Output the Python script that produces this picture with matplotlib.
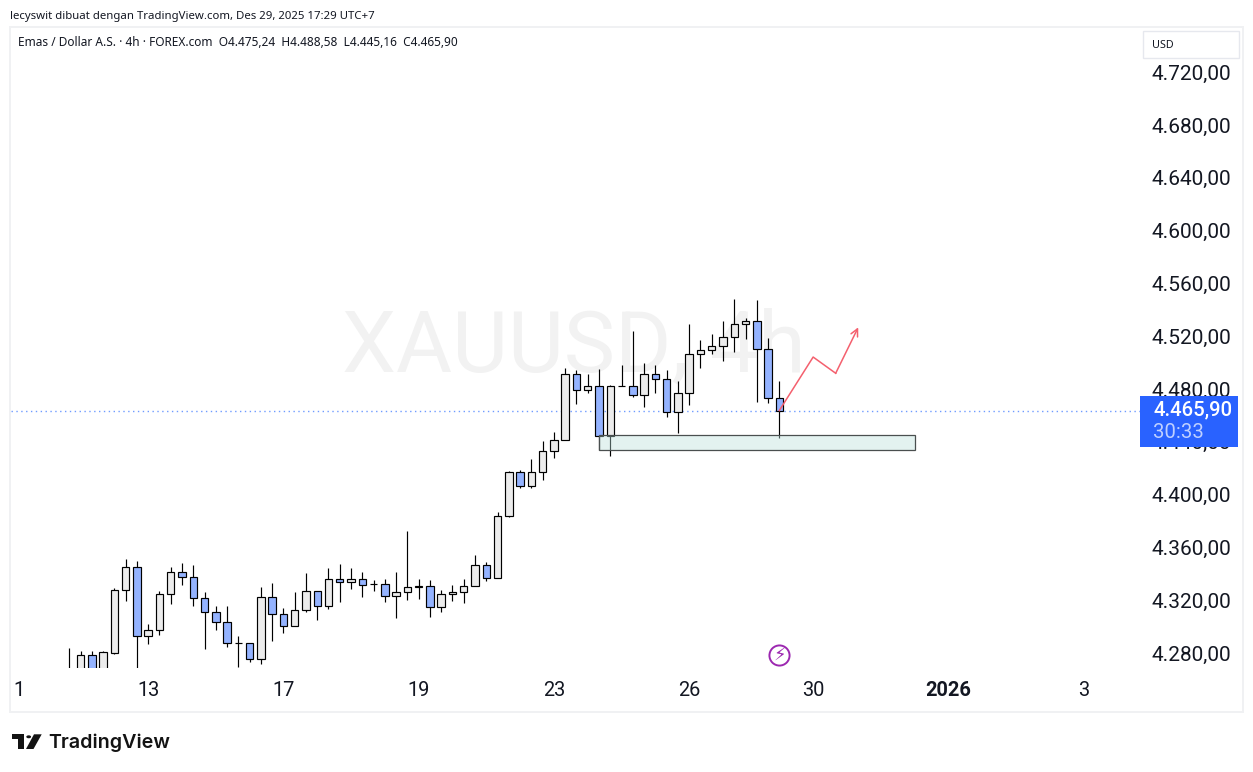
import matplotlib
matplotlib.use('Agg')
import matplotlib.pyplot as plt
from matplotlib.patches import Rectangle, FancyBboxPatch, Polygon, Circle
from matplotlib.transforms import ScaledTranslation

W, H = 1253, 772

# candle values (4h bars)
opens = [4262.0, 4268.0, 4280.5, 4270.0, 4282.5, 4329.8, 4347.2, 4294.9, 4299.5, 4326.7, 4343.4,
         4339.6, 4323.7, 4313.1, 4305.5, 4289.6, 4289.6, 4277.5, 4324.5, 4311.6, 4302.5, 4314.6,
         4329.0, 4317.7, 4338.1, 4335.8, 4338.1, 4334.3, 4334.3, 4325.2, 4328.3, 4332.0, 4332.8,
         4316.9, 4326.7, 4328.3, 4332.8, 4348.7, 4338.9, 4385.8, 4419.2, 4408.6, 4419.2, 4435.1,
         4443.4, 4493.4, 4481.3, 4484.3, 4446.4, 4484.3, 4484.3, 4477.5, 4493.4, 4489.6, 4464.6,
         4479.0, 4508.6, 4511.6, 4514.6, 4521.4, 4531.3, 4533.6, 4512.3, 4475.24]
highs = [4285.8, 4283.8, 4283.8, 4283.8, 4331.3, 4353.3, 4351.7, 4304.0, 4329.0, 4347.2, 4350.2,
         4348.7, 4328.3, 4317.7, 4317.7, 4294.9, 4289.6, 4332.0, 4335.1, 4316.1, 4328.3, 4342.7,
         4329.0, 4346.4, 4349.5, 4346.4, 4343.4, 4337.3, 4338.1, 4343.4, 4374.5, 4338.1, 4337.3,
         4329.8, 4333.6, 4338.1, 4356.3, 4351.0, 4388.9, 4419.9, 4420.7, 4429.0, 4442.7, 4449.5,
         4498.0, 4496.4, 4493.4, 4497.2, 4485.1, 4500.2, 4526.2, 4501.7, 4500.2, 4496.4, 4488.1,
         4531.3, 4519.2, 4523.7, 4533.6, 4550.2, 4535.8, 4549.5, 4520.7, 4488.58]
lows = [4258.0, 4262.0, 4262.0, 4265.0, 4281.7, 4321.9, 4269.4, 4289.3, 4296.1, 4319.6, 4334.0,
        4318.1, 4285.5, 4299.9, 4287.0, 4271.9, 4275.7, 4274.2, 4291.6, 4297.7, 4302.5, 4313.6,
        4307.5, 4315.8, 4321.1, 4331.0, 4324.9, 4329.5, 4321.1, 4309.0, 4322.7, 4323.4, 4309.8,
        4313.6, 4321.9, 4320.4, 4332.8, 4337.0, 4338.9, 4385.1, 4407.0, 4407.0, 4413.1, 4429.8,
        4443.4, 4470.7, 4479.0, 4436.0, 4431.3, 4484.3, 4476.0, 4468.3, 4479.0, 4461.4, 4448.9,
        4470.2, 4498.4, 4508.6, 4503.7, 4510.5, 4520.4, 4472.7, 4471.9, 4445.16]
closes = [4268.0, 4280.5, 4268.0, 4282.8, 4329.8, 4347.2, 4294.9, 4299.5, 4326.7, 4343.4, 4339.6,
          4323.7, 4313.1, 4305.5, 4289.6, 4289.6, 4277.5, 4324.5, 4311.6, 4302.5, 4314.6, 4329.0,
          4317.7, 4338.1, 4335.8, 4338.1, 4333.6, 4334.3, 4325.2, 4328.3, 4332.0, 4332.8, 4316.9,
          4326.7, 4328.3, 4332.8, 4348.7, 4338.9, 4385.8, 4419.2, 4408.6, 4419.2, 4435.1, 4443.4,
          4493.4, 4481.3, 4484.3, 4446.4, 4484.3, 4484.3, 4477.5, 4493.4, 4489.6, 4464.6, 4479.0,
          4508.6, 4511.6, 4514.6, 4521.4, 4531.3, 4533.6, 4512.3, 4475.2, 4465.90]

price_ticks = [4280, 4320, 4360, 4400, 4440, 4480, 4520, 4560, 4600, 4640, 4680, 4720]
price_labels = ['4.280,00', '4.320,00', '4.360,00', '4.400,00', '4.440,00', '4.480,00',
                '4.520,00', '4.560,00', '4.600,00', '4.640,00', '4.680,00', '4.720,00']
date_ticks = [-4.5, 7, 19, 31, 43, 55, 66, 78, 90]
date_labels = ['1', '13', '17', '19', '23', '26', '30', '2026', '3']

# drawings on the chart
zone_x = [47, 75]
zone_y = [4436.4, 4447.8]
arrow_x = [63, 66, 68, 70]
arrow_y = [4466.0, 4506.5, 4494.2, 4529.0]

FONT = 'Roboto'
UI = 'Noto Sans'
UP = '#ececec'
DOWN = '#94b3ff'
BLUE = '#2962ff'


def px_x(x):
    return x / W


def px_y(y):
    return 1 - y / H


fig = plt.figure(figsize=(W / 100, H / 100), dpi=100, facecolor='white')

# outer frame of the chart
fig.add_artist(Rectangle((px_x(10), px_y(712)), 1233 / W, 685 / H, transform=fig.transFigure,
                         fc='white', ec='#f0f1f3', lw=1.4, zorder=-1))

ax = fig.add_axes([px_x(11), px_y(668), 1129 / W, 640 / H])
ax.patch.set_alpha(0)
ax.set_xlim(-5.17, 95.0)
ax.set_ylim(4270.9, 4755.8)
for s in ax.spines.values():
    s.set_visible(False)

ax.text(44.8, 4513, 'XAUUSD, 4h', family=FONT, fontsize=62, color='#f2f2f2', ha='center', va='center', zorder=1)

xs = list(range(len(opens)))
ax.vlines(xs, lows, highs, color='black', lw=0.85, zorder=3)
for i in xs:
    top = max(opens[i], closes[i])
    bot = min(opens[i], closes[i])
    color = DOWN if closes[i] < opens[i] else UP
    ax.bar(i, top - bot, bottom=bot, width=0.66, color=color, edgecolor='black', linewidth=0.85, zorder=4)

ax.axhline(closes[-1], color='#6f9bff', lw=1.0, ls=(0, (1, 2.5)), zorder=2)

ax.add_patch(Rectangle((zone_x[0], zone_y[0]), zone_x[1] - zone_x[0], zone_y[1] - zone_y[0],
                       fc='#b9dfda', alpha=0.4, lw=0, zorder=5))
ax.add_patch(Rectangle((zone_x[0], zone_y[0]), zone_x[1] - zone_x[0], zone_y[1] - zone_y[0],
                       fc='none', ec='#4a4f4f', lw=0.9, zorder=5))

ax.plot(arrow_x[:3], arrow_y[:3], color='#f4606e', lw=1.1, zorder=6)
ax.annotate('', xy=(arrow_x[3], arrow_y[3]), xytext=(arrow_x[2], arrow_y[2]),
            arrowprops=dict(arrowstyle='->', color='#f4606e', lw=1.1, shrinkA=0, shrinkB=0,
                            mutation_scale=13), zorder=6)

# purple lightning badge
ax.plot([63], [4280.4], 'o', ms=14.5, mfc='white', mec='#9c27b0', mew=1.4, zorder=6)
ax.text(63, 4280.4, '\u26a1', family='DejaVu Sans', fontsize=13, color='#9c27b0', ha='center',
        va='center', zorder=7)

ax.yaxis.tick_right()
ax.set_yticks(price_ticks)
ax.set_yticklabels(price_labels, family=FONT, fontsize=15, color='#131722')
ax.tick_params(axis='y', length=0, pad=8.6)
# labels in the reference sit a little above their price level
for lab in ax.get_yticklabels():
    lab.set_transform(lab.get_transform() + ScaledTranslation(0, 2.2 / 72, fig.dpi_scale_trans))
ax.set_xticks(date_ticks)
ax.set_xticklabels(date_labels, family=FONT, fontsize=14.4, color='#131722')
ax.tick_params(axis='x', length=0, pad=9.3)
ax.get_xticklabels()[7].set_fontweight('bold')

# price tag on the axis
fig.add_artist(FancyBboxPatch((px_x(1140), px_y(447.5)), 97.5 / W, 51.5 / H, transform=fig.transFigure,
                              boxstyle='square,pad=0', fc=BLUE, ec='none', zorder=10))
fig.text(px_x(1153), px_y(409.5), '4.465,90', family=FONT, fontsize=14.6, fontweight='medium',
         color='white', va='center', zorder=11)
fig.text(px_x(1153), px_y(433), '30:33', family=FONT, fontsize=14.6, color='#bfd0ff', va='center', zorder=11)

# currency button
fig.add_artist(FancyBboxPatch((px_x(1143), px_y(58)), 96 / W, 27 / H, transform=fig.transFigure,
                              boxstyle='square,pad=0', fc='white', ec='#e6e8ee', lw=1.0, zorder=10))
fig.text(px_x(1152), px_y(45), 'USD', family=UI, fontsize=7.8, color='#131722', va='center', zorder=11)

fig.text(px_x(10), px_y(16.5), 'lecyswit dibuat dengan TradingView.com, Des 29, 2025 17:29 UTC+7',
         family=UI, fontsize=8.2, color='#131722', va='center')
fig.text(px_x(18), px_y(42.5), 'Emas / Dollar A.S. \u00b7 4h \u00b7 FOREX.com  O4.475,24  H4.488,58  L4.445,16  C4.465,90',
         family=UI, fontsize=8.55, color='#131722', va='center')

# TradingView logo
logo_color = '#131313'
logo_t = [(12, 734.3), (24, 734.3), (24, 749), (18, 749), (18, 739.3), (12, 739.3)]
logo_slash = [(34, 734.3), (41.7, 734.3), (33.5, 749), (26, 749)]
for pts in (logo_t, logo_slash):
    fig.add_artist(Polygon([(px_x(a), px_y(b)) for a, b in pts], transform=fig.transFigure, fc=logo_color, ec='none'))
fig.add_artist(Circle((px_x(28.7), px_y(736.8)), 2.4 / W, transform=fig.transFigure, fc=logo_color, ec='none'))
fig.text(px_x(48), px_y(743), 'TradingView', family='Inter', fontsize=14.2, fontweight='semibold',
         color=logo_color, va='center')

fig.savefig('out.png', dpi=100, facecolor='white')
